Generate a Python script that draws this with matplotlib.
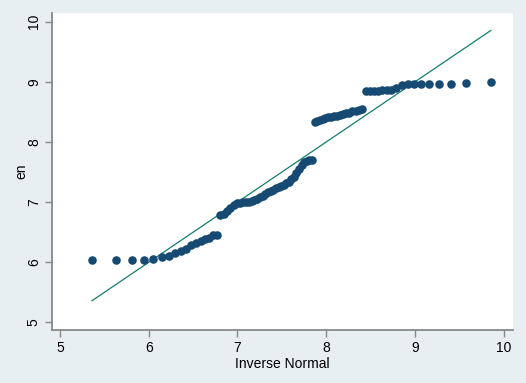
import matplotlib
matplotlib.use('Agg')
import matplotlib.pyplot as plt

plt.rcParams['font.family'] = ['Liberation Sans', 'DejaVu Sans']

# inverse normal quantiles (x) and sorted values of en (y)
inv_normal = [5.360, 5.635, 5.811, 5.944, 6.052, 6.144, 6.225, 6.298, 6.364, 6.425,
              6.482, 6.535, 6.586, 6.634, 6.679, 6.723, 6.766, 6.806, 6.846, 6.884,
              6.921, 6.957, 6.993, 7.027, 7.061, 7.095, 7.127, 7.160, 7.191, 7.223,
              7.254, 7.284, 7.315, 7.345, 7.374, 7.404, 7.433, 7.463, 7.492, 7.521,
              7.550, 7.579, 7.608, 7.636, 7.665, 7.694, 7.723, 7.752, 7.782, 7.811,
              7.841, 7.870, 7.900, 7.931, 7.961, 7.992, 8.024, 8.055, 8.088, 8.120,
              8.154, 8.188, 8.222, 8.258, 8.294, 8.331, 8.369, 8.409, 8.450, 8.492,
              8.536, 8.581, 8.629, 8.680, 8.733, 8.790, 8.851, 8.918, 8.990, 9.071,
              9.163, 9.271, 9.404, 9.580, 9.855]

en = [6.03, 6.03, 6.03, 6.04, 6.05, 6.08, 6.11, 6.15, 6.19, 6.22,
      6.29, 6.32, 6.35, 6.38, 6.41, 6.45, 6.46, 6.78, 6.80, 6.85,
      6.90, 6.95, 6.98, 6.99, 7.00, 7.00, 7.01, 7.02, 7.04, 7.06,
      7.08, 7.11, 7.14, 7.17, 7.19, 7.21, 7.23, 7.25, 7.27, 7.29,
      7.31, 7.34, 7.38, 7.42, 7.48, 7.55, 7.62, 7.66, 7.69, 7.70,
      7.70, 8.33, 8.35, 8.37, 8.39, 8.40, 8.41, 8.42, 8.43, 8.44,
      8.45, 8.47, 8.48, 8.49, 8.51, 8.52, 8.54, 8.55, 8.84, 8.84,
      8.85, 8.85, 8.86, 8.86, 8.87, 8.90, 8.94, 8.96, 8.96, 8.97,
      8.97, 8.97, 8.97, 8.98, 8.99]

ref_line = [min(inv_normal), max(inv_normal)]
ticks = [5, 6, 7, 8, 9, 10]

bg = '#e7eff2'
axis_grey = '#888888'

fig = plt.figure(figsize=(5.26, 3.83), dpi=100, facecolor=bg)
ax = fig.add_axes([52/526, 1 - 330/383, (513 - 52)/526, (330 - 13)/383])
ax.set_facecolor('white')

ax.scatter(inv_normal, en, s=38, color='#164a72', linewidths=0, zorder=3)
ax.plot(ref_line, ref_line, color='#10806a', lw=0.9, zorder=2)

ax.set_xlim(4.91, 10.105)
ax.set_ylim(4.874, 10.145)
ax.set_xticks(ticks)
ax.set_yticks(ticks)

for s in ['top', 'right']:
    ax.spines[s].set_visible(False)
for s in ['left', 'bottom']:
    ax.spines[s].set_color(axis_grey)
    ax.spines[s].set_linewidth(1.3)

ax.tick_params(length=5, width=1, color=axis_grey, labelsize=10, pad=3)
ax.tick_params(axis='y', labelrotation=90)
for lab in ax.get_yticklabels():
    lab.set_va('center')

ax.set_xlabel('Inverse Normal', fontsize=10, labelpad=1)
ax.set_ylabel('en', fontsize=10, labelpad=-1)

fig.savefig('out.png', dpi=100, facecolor=bg)
